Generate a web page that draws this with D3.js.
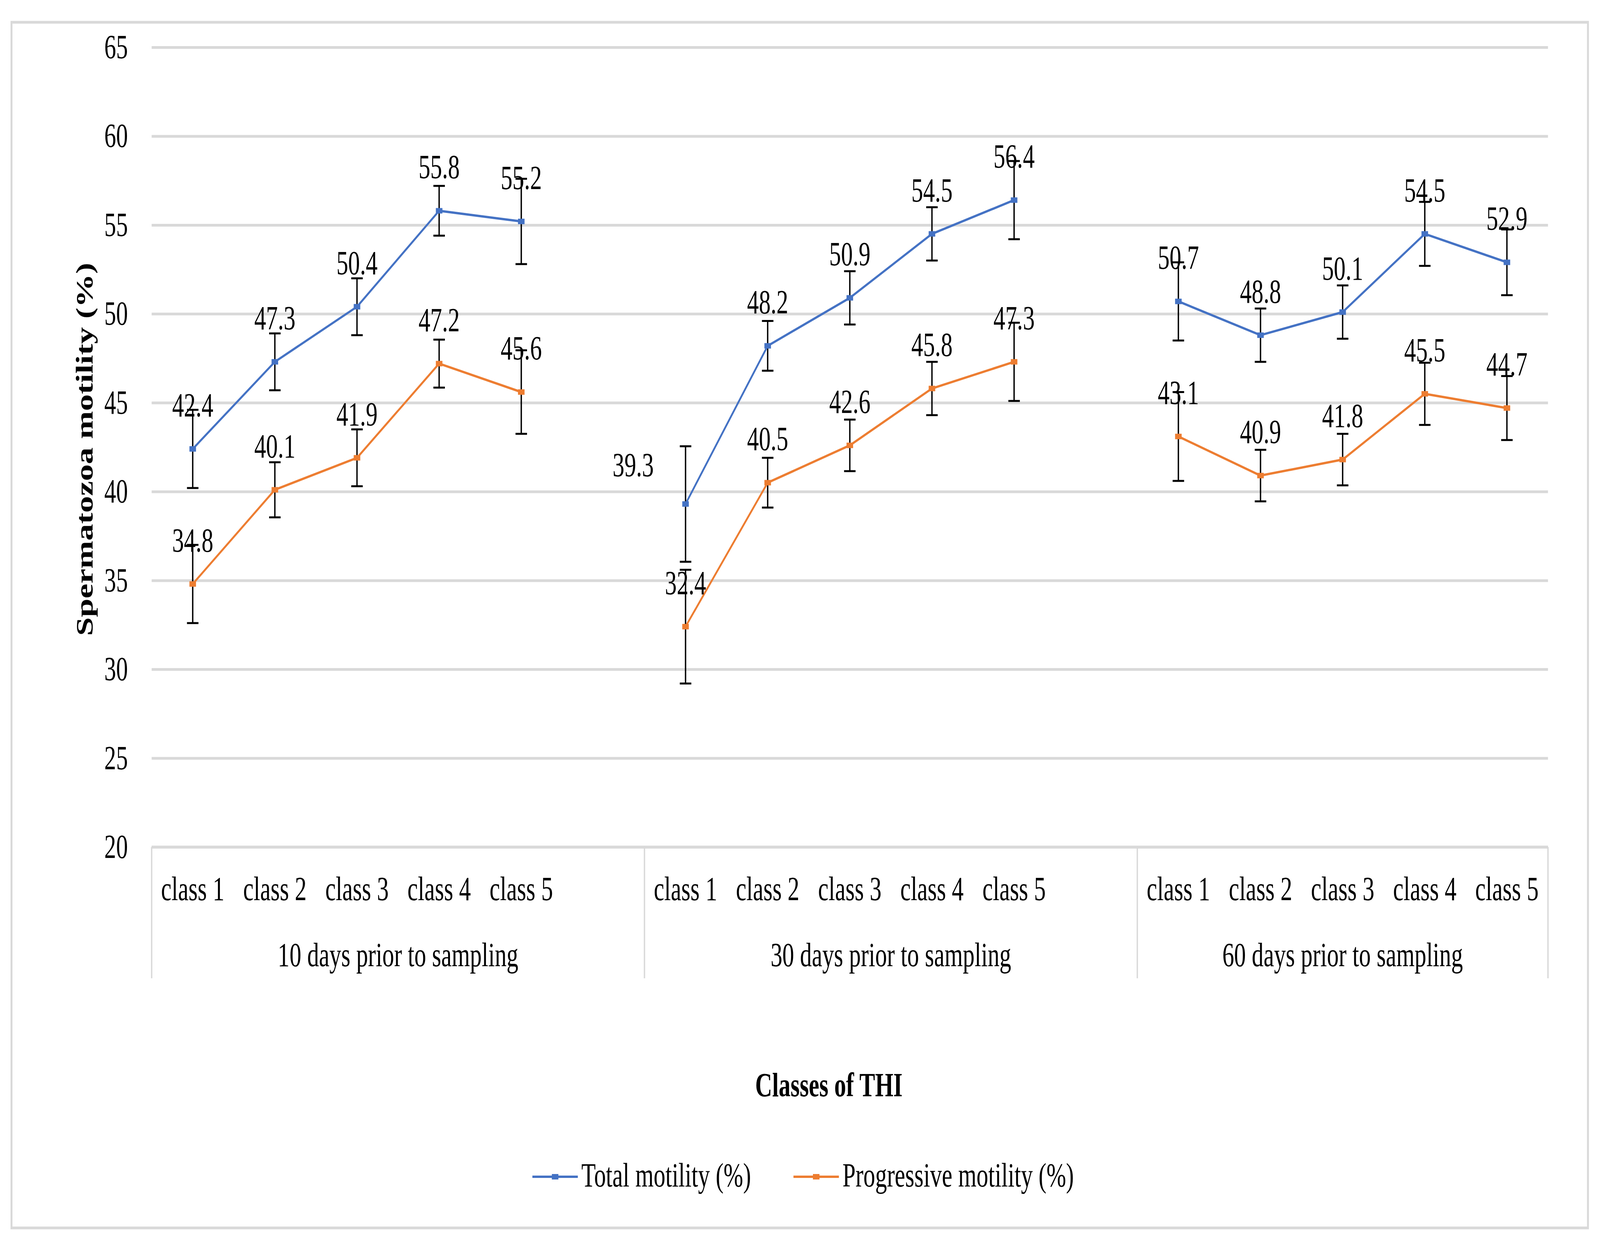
<!DOCTYPE html>
<html lang="en">
<head>
<meta charset="UTF-8">
<title>Spermatozoa motility by THI class</title>
<style>
  html, body { margin: 0; padding: 0; width: 100%; height: 100%; overflow: hidden; background: #fff; }
  svg { display: block; width: 100vw; height: 100vh; }
  text { font-family: "Liberation Serif", "Times New Roman", serif; fill: #000; }
</style>
</head>
<body>
<svg viewBox="0 0 5845 3179" preserveAspectRatio="none"></svg>
<script src="https://d3js.org/d3.v7.min.js"></script>
<script>
// data
const groups = ["10 days prior to sampling", "30 days prior to sampling", "60 days prior to sampling"];
const classes = ["class 1", "class 2", "class 3", "class 4", "class 5"];
const seriesNames = ["Total motility (%)", "Progressive motility (%)"];
const totalMotility = [42.4, 47.3, 50.4, 55.8, 55.2, 39.3, 48.2, 50.9, 54.5, 56.4, 50.7, 48.8, 50.1, 54.5, 52.9];
const totalErr      = [2.2, 1.6, 1.6, 1.4, 2.4, 3.25, 1.4, 1.5, 1.5, 2.2, 2.2, 1.5, 1.5, 1.8, 1.85];
const progMotility  = [34.8, 40.1, 41.9, 47.2, 45.6, 32.4, 40.5, 42.6, 45.8, 47.3, 43.1, 40.9, 41.8, 45.5, 44.7];
const progErr       = [2.2, 1.55, 1.6, 1.35, 2.35, 3.2, 1.4, 1.45, 1.5, 2.2, 2.5, 1.45, 1.45, 1.75, 1.8];
const yTicks = [20, 25, 30, 35, 40, 45, 50, 55, 60, 65];

const colors = ["#4472C4", "#ED7D31"];
const grid = "#d9d9d9";
const fs = 86;

const svg = d3.select("svg");

// chart frame
svg.append("rect")
  .attr("x", 42).attr("y", 57).attr("width", 5759).attr("height", 3086)
  .attr("fill", "#fff").attr("stroke", grid).attr("stroke-width", 7);

const plot = {left: 554, right: 5655, top: 121, bottom: 2168};

// category slots, with an empty slot between groups (as in the sheet)
const slots = [];
groups.forEach((g, gi) => {
  classes.forEach((c, ci) => slots.push(gi + "|" + ci));
  if (gi < groups.length - 1) slots.push("gap" + gi);
});

const x = d3.scaleBand().domain(slots).range([plot.left, plot.right]).padding(0);
const cx = k => x(k) + x.bandwidth() / 2;
const y = d3.scaleLinear().domain([20, 65]).range([plot.bottom, plot.top]);

// y axis + gridlines
const yAxis = d3.axisLeft(y)
  .tickValues(yTicks)
  .tickSizeInner(-(plot.right - plot.left))
  .tickSizeOuter(0)
  .tickPadding(87);

const ya = svg.append("g")
  .attr("transform", `translate(${plot.left},0)`)
  .call(yAxis);
ya.select(".domain").remove();
ya.selectAll(".tick line").attr("stroke", grid).attr("stroke-width", 7);
ya.selectAll(".tick text")
  .attr("font-size", fs)
  .style("font-family", '"Liberation Serif", serif')
  .attr("fill", "#000");

// multi-level category axis
const cat = svg.append("g");
cat.append("line")
  .attr("x1", plot.left).attr("x2", plot.right)
  .attr("y1", plot.bottom).attr("y2", plot.bottom)
  .attr("stroke", grid).attr("stroke-width", 7);

const groupStart = groups.map((g, gi) => x(gi + "|0"));
const groupEdges = groupStart.concat([plot.right]);
cat.selectAll(".sep")
  .data(groupEdges)
  .enter().append("line")
  .attr("x1", d => d).attr("x2", d => d)
  .attr("y1", plot.bottom).attr("y2", 2504)
  .attr("stroke", grid).attr("stroke-width", 5);

cat.selectAll(".cls")
  .data(slots.filter(s => !s.startsWith("gap")))
  .enter().append("text")
  .attr("x", d => cx(d))
  .attr("y", 2304)
  .attr("text-anchor", "middle")
  .attr("font-size", fs)
  .text(d => classes[+d.split("|")[1]]);

cat.selectAll(".grp")
  .data(groups)
  .enter().append("text")
  .attr("x", (d, i) => (groupEdges[i] + groupEdges[i + 1]) / 2)
  .attr("y", 2473)
  .attr("text-anchor", "middle")
  .attr("font-size", fs)
  .text(d => d);

// axis titles
svg.append("text")
  .attr("transform", "translate(338,1150) rotate(-90)")
  .attr("text-anchor", "middle")
  .attr("font-size", fs)
  .attr("font-weight", "bold")
  .text("Spermatozoa motility (%)");

svg.append("text")
  .attr("x", 3028).attr("y", 2806)
  .attr("text-anchor", "middle")
  .attr("font-size", fs)
  .attr("font-weight", "bold")
  .text("Classes of THI");

// series
const series = [
  {name: seriesNames[0], values: totalMotility, err: totalErr, color: colors[0]},
  {name: seriesNames[1], values: progMotility, err: progErr, color: colors[1]}
];

const pts = s => s.values.map((v, i) => ({
  key: Math.floor(i / classes.length) + "|" + (i % classes.length),
  g: Math.floor(i / classes.length),
  v: v, e: s.err[i], i: i
}));

const line = d3.line().x(d => cx(d.key)).y(d => y(d.v));

series.forEach((s, si) => {
  const p = pts(s);
  const gs = svg.append("g");

  // error bars
  const eb = gs.selectAll(".eb").data(p).enter().append("g").attr("stroke", "#000").attr("stroke-width", 5);
  eb.append("line")
    .attr("x1", d => cx(d.key)).attr("x2", d => cx(d.key))
    .attr("y1", d => y(d.v + d.e)).attr("y2", d => y(d.v - d.e));
  eb.append("line")
    .attr("x1", d => cx(d.key) - 21).attr("x2", d => cx(d.key) + 21)
    .attr("y1", d => y(d.v + d.e)).attr("y2", d => y(d.v + d.e));
  eb.append("line")
    .attr("x1", d => cx(d.key) - 21).attr("x2", d => cx(d.key) + 21)
    .attr("y1", d => y(d.v - d.e)).attr("y2", d => y(d.v - d.e));

  // one line per group (blank slots break the line)
  groups.forEach((g, gi) => {
    gs.append("path")
      .datum(p.filter(d => d.g === gi))
      .attr("d", line)
      .attr("fill", "none")
      .attr("stroke", s.color)
      .attr("stroke-width", 6)
      .attr("stroke-linejoin", "round");
  });

  gs.selectAll(".mk").data(p).enter().append("rect")
    .attr("x", d => cx(d.key) - 12).attr("y", d => y(d.v) - 7)
    .attr("width", 24).attr("height", 14)
    .attr("fill", s.color);

  // data labels, above the point; the first point of the 30 day total sits to its left
  gs.selectAll(".lb").data(p).enter().append("text")
    .attr("x", d => (si === 0 && d.i === 5) ? cx(d.key) - 116 : cx(d.key))
    .attr("y", d => (si === 0 && d.i === 5) ? y(d.v) - 71 : y(d.v) - 83)
    .attr("text-anchor", d => (si === 0 && d.i === 5) ? "end" : "middle")
    .attr("font-size", fs)
    .text(d => d.v.toFixed(1));
});

// legend
const leg = svg.append("g");
const items = series.map(s => {
  const g = leg.append("g");
  g.append("line").attr("x1", 0).attr("x2", 166).attr("y1", 0).attr("y2", 0)
    .attr("stroke", s.color).attr("stroke-width", 6);
  g.append("rect").attr("x", 71).attr("y", -7).attr("width", 24).attr("height", 14).attr("fill", s.color);
  const t = g.append("text").attr("x", 179).attr("y", 25).attr("font-size", fs).text(s.name);
  return {g: g, w: 179 + t.node().getComputedTextLength()};
});
const gap = 155;
const totalW = d3.sum(items, d => d.w) + gap * (items.length - 1);
let lx = 2934 - totalW / 2;
items.forEach(it => {
  it.g.attr("transform", `translate(${lx},3012)`);
  lx += it.w + gap;
});
</script>
</body>
</html>
